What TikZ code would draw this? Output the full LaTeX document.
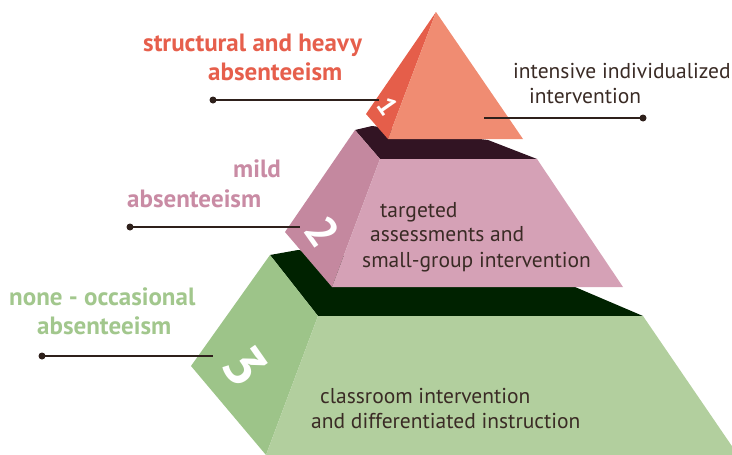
\documentclass[tikz,border=0pt]{standalone}
\usepackage{fontspec}
\setmainfont{PT Sans}
\definecolor{ink}{HTML}{3A2B25}
\definecolor{lineink}{HTML}{2E201B}
\definecolor{oLeft}{HTML}{E55E4A}
\definecolor{oFront}{HTML}{F08C72}
\definecolor{oLabel}{HTML}{E65F4C}
\definecolor{pTop}{HTML}{321423}
\definecolor{pLeft}{HTML}{C4889F}
\definecolor{pFront}{HTML}{D5A1B6}
\definecolor{pLabel}{HTML}{C98BA4}
\definecolor{gTop}{HTML}{002200}
\definecolor{gLeft}{HTML}{9DC489}
\definecolor{gFront}{HTML}{B2CF9E}
\definecolor{gLabel}{HTML}{A2C78D}
\begin{document}
\begin{tikzpicture}[x=1pt,y=-1pt,
  lbl/.style={font=\bfseries\fontsize{25}{30}\selectfont, anchor=base west, inner sep=0pt},
  txt/.style={font=\fontsize{21.5}{25}\selectfont, text=ink, anchor=base west, inner sep=0pt},
  num/.style={font=\bfseries, text=white, rotate=-55, inner sep=0pt},
  lead/.style={draw=lineink, line width=1.1pt},
  dotmark/.style={circle, fill=lineink, inner sep=0pt, minimum size=7pt}]
\useasboundingbox (0,0) rectangle (732,455);
\clip (0,0) rectangle (732,455);
% level 3
\fill[gTop] (270,255) -- (298,250) -- (575,287) -- (643,316) -- (318,316) -- cycle;
\fill[gLeft] (270,255) -- (191,366) -- (266,455) -- (318,316) -- cycle;
\fill[gFront] (318,316) -- (643,316) -- (738,455) -- (266,455) -- cycle;
% level 2
\fill[pTop] (355,130) -- (372,126) -- (488,140) -- (537,159) -- (380,159) -- cycle;
\fill[pLeft] (355,130) -- (285,232) -- (332,287) -- (380,159) -- cycle;
\fill[pFront] (380,159) -- (537,159) -- (623,287) -- (332,287) -- cycle;
% level 1
\fill[oLeft] (436,12) -- (366,114) -- (388,139) -- cycle;
\fill[oFront] (436,12) -- (388,139) -- (523,139) -- cycle;
% numbers
\node[num, font=\bfseries\fontsize{27}{27}\selectfont] (n1) at (388,106) {1};
\node[num, font=\bfseries\fontsize{44}{44}\selectfont] (n2) at (323,232) {2};
\node[num, font=\bfseries\fontsize{58}{58}\selectfont] (n3) at (245,367) {3};
% leader lines
\node[dotmark] (d1) at (213,100) {};
\coordinate (e1) at (379,100);
\draw[lead] (d1.center) -- (e1);
\node[dotmark] (d1r) at (643,118) {};
\coordinate (e1r) at (484,118);
\draw[lead] (e1r) -- (d1r.center);
\node[dotmark] (d2) at (130,227) {};
\coordinate (e2) at (300,227);
\draw[lead] (d2.center) -- (e2);
\node[dotmark] (d3) at (42,356) {};
\coordinate (e3) at (213,356);
\draw[lead] (d3.center) -- (e3);
% labels
\node[lbl, text=oLabel] (t1a) at (143,52) {structural and heavy};
\node[lbl, text=oLabel] (t1b) at (208,80) {absenteeism};
\node[lbl, text=pLabel] (t2a) at (233,177) {mild};
\node[lbl, text=pLabel] (t2b) at (127,207) {absenteeism};
\node[lbl, text=gLabel] (t3a) at (9,305) {none - occasional};
\node[lbl, text=gLabel] (t3b) at (37,334) {absenteeism};
% descriptions
\node[txt] (s1a) at (513,78) {intensive individualized};
\node[txt] (s1b) at (529,103) {intervention};
\node[txt] (s2a) at (380,217) {targeted};
\node[txt] (s2b) at (370,241) {assessments and};
\node[txt] (s2c) at (362,267) {small-group intervention};
\node[txt] (s3a) at (320,403) {classroom intervention};
\node[txt] (s3b) at (311,428) {and differentiated instruction};
\end{tikzpicture}
\end{document}
